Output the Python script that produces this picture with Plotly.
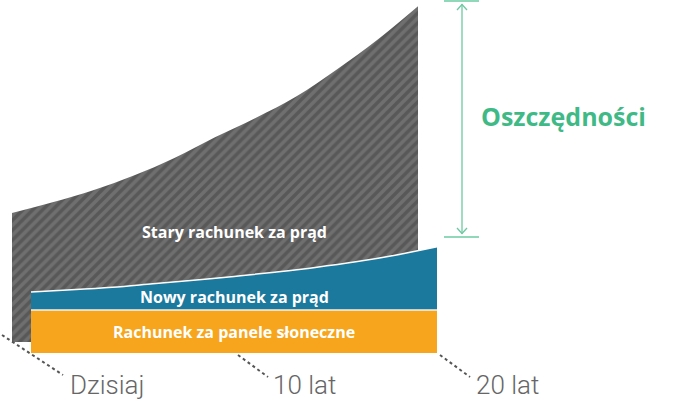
import plotly.graph_objects as go

# years from today, bills in zł per month (illustrative)
years = [0, 2, 4, 6, 8, 10, 12, 14, 16, 18, 20]
old_bill = [300, 325, 353, 387, 428, 476, 521, 571, 634, 703, 781]
new_bill = [42, 47, 53, 61, 69, 78, 88, 99, 112, 128, 147]
panel_cost = [100] * len(years)
tick_years = [0, 10, 20]
tick_labels = ['Dzisiaj', '10 lat', '20 lat']

W, H = 700, 400
PX_YEAR = 20.3      # pixels per year
PX_ZL = 0.43        # pixels per zł
FRONT = (31, 353)   # pixel position of (0, 0) for the front layer
BACK = (12, 342)    # back layer sits up and to the left

def xr(px0):
    return [-px0 / PX_YEAR, (W - px0) / PX_YEAR]

def yr(py0):
    return [-(H - py0) / PX_ZL, py0 / PX_ZL]

fig = go.Figure()

# back layer: the old bill, striped
fig.add_trace(go.Scatter(
    x=years, y=old_bill, mode='lines', line=dict(width=0, shape='spline'),
    fill='tozeroy',
    fillpattern=dict(shape='/', bgcolor='#585858', fgcolor='#868686', size=7, solidity=0.5),
    xaxis='x', yaxis='y', hoverinfo='skip'))

# front layer: panels + new bill
stack = [p + n for p, n in zip(panel_cost, new_bill)]
fig.add_trace(go.Scatter(
    x=years, y=panel_cost, mode='lines', line=dict(width=1.5, color='#f3f3ee'),
    fill='tozeroy', fillcolor='#f7a51d', xaxis='x2', yaxis='y2', hoverinfo='skip'))
fig.add_trace(go.Scatter(
    x=years, y=stack, mode='lines', line=dict(width=1.5, color='white', shape='spline'),
    fill='tonexty', fillcolor='#1b799e', xaxis='x2', yaxis='y2', hoverinfo='skip'))

label_font = dict(family='Open Sans', size=16, color='white', weight='bold')
fig.add_annotation(x=10, y=281, xref='x2', yref='y2', text='Stary rachunek za prąd',
                   showarrow=False, font=label_font)
fig.add_annotation(x=10, y=130, xref='x2', yref='y2', text='Nowy rachunek za prąd',
                   showarrow=False, font=label_font)
fig.add_annotation(x=10, y=panel_cost[0] / 2, xref='x2', yref='y2',
                   text='Rachunek za panele słoneczne', showarrow=False, font=label_font)

# dotted leaders and time labels
leaders = {0: (-29, 18, 32, -22), 10: (4, -2, 34, -24), 20: (3, -2, 33, -24)}
for yv, lab in zip(tick_years, tick_labels):
    x0, y0, x1, y1 = leaders[yv]
    fig.add_shape(type='line', xref='x2', yref='y2', xsizemode='pixel', ysizemode='pixel',
                  xanchor=yv, yanchor=0, x0=x0, y0=y0, x1=x1, y1=y1,
                  line=dict(color='#555555', width=2, dash='dot'))
    fig.add_annotation(x=yv, y=0, xref='x2', yref='y2', text=lab, showarrow=False,
                       xanchor='left', yanchor='middle', xshift=37, yshift=-32,
                       font=dict(family='Roboto', size=26, color='#666666', weight=300))

# savings bracket
green = '#6ccaa2'
def px(x):
    return x / W

def py(y):
    return 1 - y / H

fig.add_shape(type='line', xref='paper', yref='paper', x0=px(462), x1=px(462),
              y0=py(4), y1=py(234), line=dict(color=green, width=1.3))
for yy in (1, 237):
    fig.add_shape(type='line', xref='paper', yref='paper', x0=px(444), x1=px(479),
                  y0=py(yy), y1=py(yy), line=dict(color=green, width=1.3))
fig.add_shape(type='path', xref='paper', yref='paper',
              path=f'M {px(457)} {py(10)} L {px(462)} {py(4.5)} L {px(467)} {py(10)}',
              line=dict(color=green, width=1.3))
fig.add_shape(type='path', xref='paper', yref='paper',
              path=f'M {px(457)} {py(228)} L {px(462)} {py(233.5)} L {px(467)} {py(228)}',
              line=dict(color=green, width=1.3))
fig.add_annotation(x=px(479), y=py(116), xref='paper', yref='paper', text='Oszczędności',
                   showarrow=False, xanchor='left', yanchor='middle',
                   font=dict(family='Open Sans', size=25, color='#3fba86', weight='bold'))

hidden = dict(visible=False, showgrid=False, zeroline=False, fixedrange=True)
fig.update_layout(
    width=W, height=H,
    margin=dict(l=0, r=0, t=0, b=0),
    showlegend=False,
    paper_bgcolor='white',
    plot_bgcolor='white',
    xaxis=dict(range=xr(BACK[0]), domain=[0, 1], **hidden),
    yaxis=dict(range=yr(BACK[1]), domain=[0, 1], **hidden),
    xaxis2=dict(range=xr(FRONT[0]), overlaying='x', **hidden),
    yaxis2=dict(range=yr(FRONT[1]), overlaying='y', **hidden),
)

# the page's default 8px body margin would shift the drawing
fig.write_html("out.html", config={'displayModeBar': False},
               post_script="document.body.style.margin='0px';")
